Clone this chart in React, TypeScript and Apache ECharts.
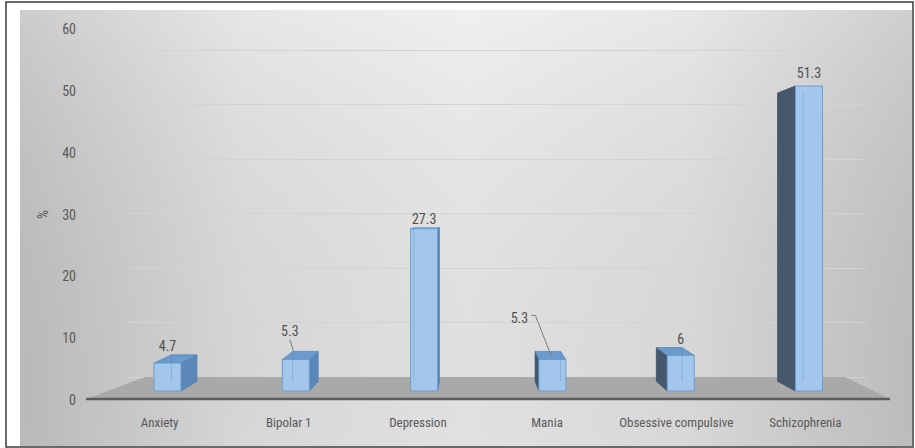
import React, { useEffect, useRef } from "react";
import * as echarts from "echarts";

// ---- data ----
const categories = ["Anxiety", "Bipolar 1", "Depression", "Mania", "Obsessive compulsive", "Schizophrenia"];
const percentages = [4.7, 5.3, 27.3, 5.3, 6, 51.3];
const yMin = 0;
const yMax = 60;
const yStep = 10;

// ---- layout / style ----
const labelShift = [[0, 0], [-6, -11], [0, 0], [-33, -24], [0, 0], [0, 0]];
const FONT = "'Liberation Sans Narrow', 'Arial Narrow', 'Roboto Condensed', sans-serif";
const TEXT = "#595959";
const VPX = 470;
const VPY = 213;
const DEPTH = 0.945;
const BAR_HALF = 13.5;

export default function App() {
  const ref = useRef<HTMLDivElement>(null);
  useEffect(() => {
    if (!ref.current) return;
    const chart = echarts.init(ref.current, null, { renderer: "svg" });

    const renderItem = (params: any, api: any) => {
      const i = params.dataIndex;
      const v = api.value(1);
      const b = api.coord([api.value(0), 0]);
      const t = api.coord([api.value(0), v]);
      const cx = 9 + 0.9933 * b[0];
      const fy = (y: number) => 6.4 + 0.9615 * y;
      const yb = fy(b[1]);
      const yt = fy(t[1]);
      const x0 = cx - BAR_HALF;
      const x1 = cx + BAR_HALF;
      const bk = (x: number, y: number) => [VPX + (x - VPX) * DEPTH, VPY + (y - VPY) * DEPTH];
      const rightSide = cx < VPX;
      const xs = rightSide ? x1 : x0;
      const xo = rightSide ? x0 : x1;
      const children: any[] = [];
      children.push({
        type: "polygon",
        shape: { points: [[xs, yt], bk(xs, yt), bk(xs, yb), [xs, yb]] },
        style: { fill: rightSide ? "#5a87b7" : "#46596c", stroke: rightSide ? "#4f7eae" : "#3d5064", lineWidth: 0.8 },
      });
      const backTop = bk(xs, yt)[1];
      if (yt > VPY) {
        children.push({
          type: "polygon",
          shape: { points: [[x0, yt], [x1, yt], bk(x1, yt), bk(x0, yt)] },
          style: { fill: "#6b9acb", stroke: "#5b8bbf", lineWidth: 0.8 },
        });
      }
      children.push({
        type: "rect",
        shape: { x: x0, y: yt, width: x1 - x0, height: yb - yt },
        style: { fill: "#a3c7ea", stroke: "#6c9dd2", lineWidth: 1 },
      });
      children.push({
        type: "polyline",
        shape: { points: [bk(xo, yt), bk(xo, yb)] },
        style: { stroke: "rgba(90,130,180,0.35)", lineWidth: 1, fill: null },
      });
      const anchorY = Math.min(yt, backTop) - (yt < VPY ? 13 : 9);
      const sh = labelShift[i] || [0, 0];
      const lx = cx + sh[0];
      const ly = anchorY + sh[1];
      children.push({
        type: "text",
        style: {
          text: String(v),
          x: lx,
          y: ly,
          align: "center",
          verticalAlign: "middle",
          fill: "#505050",
          font: `14px ${FONT}`,
        },
      });
      if (sh[0] !== 0 || sh[1] !== 0) {
        const pts =
          Math.abs(sh[0]) > 15
            ? [[lx + 12, ly - 3], [lx + 16, ly - 3], [cx - 1, Math.min(yt, backTop) + 5]]
            : [[lx, ly + 8], [cx - 2, Math.min(yt, backTop) + 1]];
        children.push({
          type: "polyline",
          shape: { points: pts },
          style: { stroke: "#7f7f7f", lineWidth: 1, fill: null },
        });
      }
      return { type: "group", children };
    };

    chart.setOption({
      animation: false,
      backgroundColor: "#ffffff",
      graphic: [
        {
          type: "rect",
          z: -10,
          shape: { x: 20, y: 10, width: 892, height: 436 },
          style: {
            fill: new echarts.graphic.LinearGradient(0, 0, 1, 0, [
              { offset: 0, color: "#c3c3c3" },
              { offset: 0.25, color: "#e2e2e2" },
              { offset: 0.5, color: "#ededed" },
              { offset: 0.75, color: "#e3e3e3" },
              { offset: 1, color: "#c6c6c6" },
            ]),
          },
        },
        {
          type: "rect",
          z: -9,
          shape: { x: 20, y: 10, width: 892, height: 436 },
          style: {
            fill: new echarts.graphic.LinearGradient(0, 0, 0, 1, [
              { offset: 0, color: "rgba(255,255,255,0.15)" },
              { offset: 1, color: "rgba(0,0,0,0.05)" },
            ]),
          },
        },
        {
          type: "rect",
          z: -8,
          shape: { x: 6, y: 2, width: 907, height: 445 },
          style: { fill: null, stroke: "#3a3a3a", lineWidth: 1.5 },
        },
        {
          type: "polygon",
          z: 1,
          shape: { points: [[86, 399], [145, 377], [845, 377], [890, 399]] },
          style: { fill: "#a9a9a9" },
        },
        {
          type: "line",
          z: 1,
          shape: { x1: 86, y1: 399, x2: 890, y2: 399 },
          style: { stroke: "#5c5c5c", lineWidth: 2.5 },
        },
      ],
      grid: [
        { left: 95, right: 45, top: 29, bottom: 48 },
        { left: 128, right: 49, top: 50, bottom: 71 },
      ],
      xAxis: [
        {
          type: "category",
          gridIndex: 0,
          data: categories,
          axisLine: { show: false },
          axisTick: { show: false },
          axisLabel: { color: TEXT, fontSize: 13, fontFamily: FONT, margin: 16, interval: 0 },
        },
        { type: "value", gridIndex: 1, min: 0, max: 1, show: false },
      ],
      yAxis: [
        {
          type: "value",
          gridIndex: 0,
          min: yMin,
          max: yMax,
          interval: yStep,
          name: "%",
          nameLocation: "middle",
          nameRotate: 90,
          nameGap: 45,
          nameTextStyle: { color: TEXT, fontSize: 14, fontFamily: FONT },
          axisLine: { show: false },
          axisTick: { show: false },
          splitLine: { show: false },
          axisLabel: { color: TEXT, fontSize: 14, fontFamily: FONT, margin: 19 },
        },
        {
          type: "value",
          gridIndex: 1,
          min: yMin,
          max: yMax,
          interval: yStep,
          axisLine: { show: false },
          axisTick: { show: false },
          axisLabel: { show: false },
          splitLine: { show: true, lineStyle: { color: "#d3d3d3", width: 1 } },
        },
      ],
      series: [
        {
          type: "custom",
          xAxisIndex: 0,
          yAxisIndex: 0,
          clip: false,
          z: 3,
          renderItem,
          data: percentages.map((v, i) => [i, v]),
        },
      ],
    });
    return () => chart.dispose();
  }, []);
  return <div ref={ref} style={{ position: "fixed", left: 0, top: 0, width: 915, height: 448 }} />;
}
